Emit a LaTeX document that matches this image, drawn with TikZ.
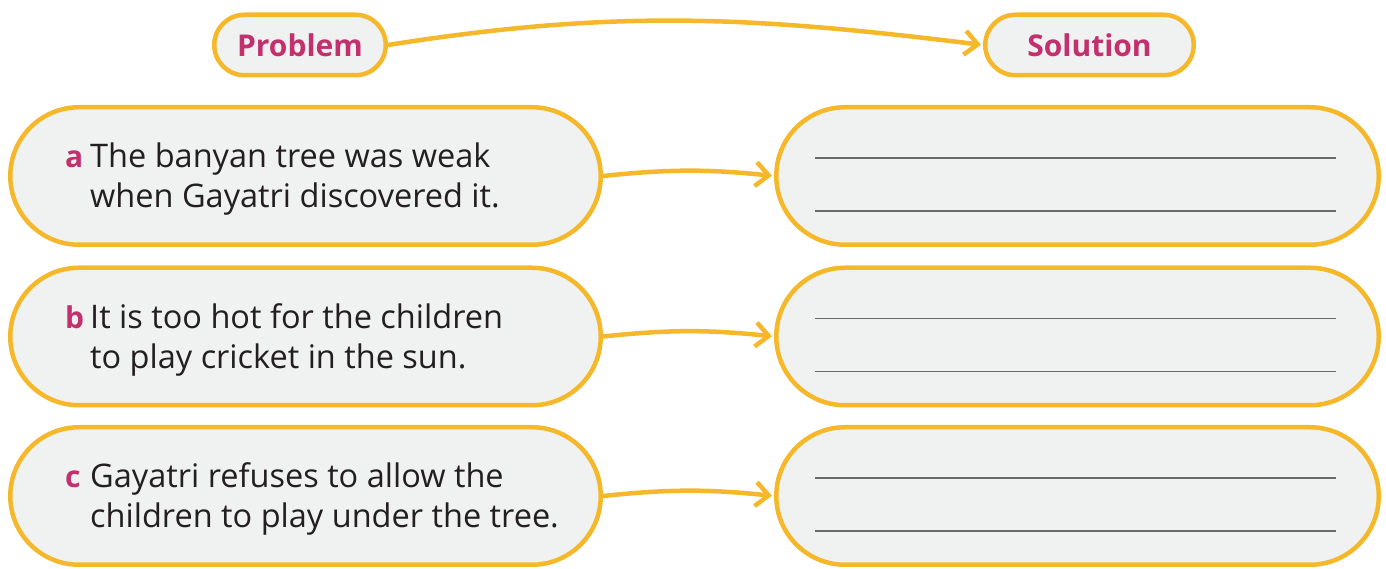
\documentclass[tikz,border=0pt]{standalone}
\usepackage{fontspec}
\setmainfont{Open Sans}
\usetikzlibrary{shapes.misc,arrows.meta}
\definecolor{pillrim}{HTML}{F6B82B}
\definecolor{pillfill}{HTML}{F0F1F1}
\definecolor{headpink}{HTML}{C2306E}
\definecolor{inkgray}{HTML}{6A6A6A}
\definecolor{textdark}{HTML}{231F20}
\newcommand{\rowtext}[3]{%
  \begin{tabular}{@{}p{25pt}@{}l@{}}
    \textcolor{headpink}{\fontsize{30}{40}\selectfont\bfseries #1} & #2\\
    & #3
  \end{tabular}}
\begin{document}
\begin{tikzpicture}
			[x=1pt,y=1pt,
			pill/.style={rounded rectangle, draw=pillrim, fill=pillfill, line width=4.5pt, inner sep=0pt},
			head/.style={pill, minimum height=60.5pt, text=headpink, font=\fontsize{30}{32}\selectfont\bfseries},
			probbox/.style={pill, minimum width=590.5pt, minimum height=137.5pt},
			solbox/.style={pill, minimum width=602.5pt, minimum height=137.5pt},
			rowlabel/.style={anchor=west, inner sep=0pt, text=textdark, font=\fontsize{32.5}{40}\selectfont},
			link/.style={draw=pillrim, line width=4.5pt, shorten >=2pt, -{Straight Barb[length=13pt,width=24pt]}},
			blank/.style={draw=inkgray, line width=1.8pt}]
			\useasboundingbox (0,0) rectangle (1386,569);
			\node[head, minimum width=171.5pt] (prob) at (300,524) {Problem};
			\node[head, minimum width=208.5pt] (sol) at (1089.5,524) {Solution};
			
			\node[probbox] (pa) at (305.5,393) {};
			\node[probbox] (pb) at (305.5,232.5) {};
			\node[probbox] (pc) at (305.5,73) {};
			\node[solbox] (sa) at (1077.5,393) {};
			\node[solbox] (sb) at (1077.5,232.5) {};
			\node[solbox] (sc) at (1077.5,73) {};
			
			\node[rowlabel] (ta) at ([xshift=57pt,yshift=-4pt]pa.west) {\rowtext{a}{The banyan tree was weak}{when Gayatri discovered it.}};
			\node[rowlabel] (tb) at ([xshift=57pt,yshift=-4pt]pb.west) {\rowtext{b}{It is too hot for the children}{to play cricket in the sun.}};
			\node[rowlabel] (tc) at ([xshift=57pt,yshift=-4pt]pc.west) {\rowtext{c}{Gayatri refuses to allow the}{children to play under the tree.}};
			
			\draw[link] (prob.east) to[out=9,in=173] (sol.west);
			\foreach \from/\to in {pa/sa,pb/sb,pc/sc}
			\draw[link] (\from.east) to[bend left=6] (\to.west);
			
			\foreach \s in {sa,sb,sc}{
				\draw[blank] ([xshift=41pt,yshift=18pt]\s.west) -- ++(521,0);
				\draw[blank] ([xshift=41pt,yshift=-35pt]\s.west) -- ++(521,0);
			}
			\end{tikzpicture}
\end{document}
